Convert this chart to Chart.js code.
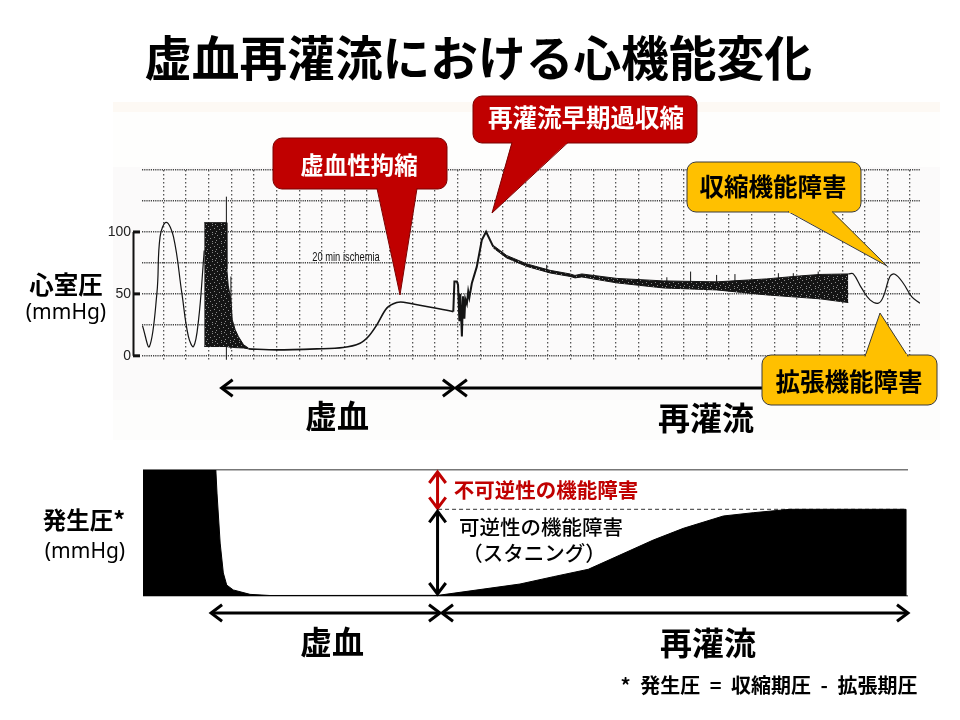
<!DOCTYPE html>
<html lang="ja">
<head>
<meta charset="utf-8">
<title>虚血再灌流における心機能変化</title>
<script src="https://cdn.jsdelivr.net/npm/chart.js@4/dist/chart.umd.min.js"></script>
<style>
html, body { margin: 0; padding: 0; background: #fff; }
body { width: 960px; height: 720px; position: relative; overflow: hidden; font-family: "Noto Sans CJK JP", sans-serif; color: #000; }
.paper { position: absolute; left: 113px; width: 827px; }
#topWrap { position: absolute; left: 0; top: 0; width: 960px; height: 440px; }
#bottomWrap { position: absolute; left: 0; top: 440px; width: 960px; height: 280px; }
.t { position: absolute; transform: translate(-50%, -50%); white-space: nowrap; line-height: 1; }
.callout { font-size: 24.5px; font-weight: 700; }
.phase { font-size: 32px; font-weight: 700; }
.axis { font-size: 24.5px; font-weight: 700; }
.unit { font-size: 21px; font-family: "Noto Sans", sans-serif; }
.note { font-size: 20.5px; font-weight: 500; }
</style>
</head>
<body>
<div class="paper" style="top:102px;height:10px;background:#fdf9f4"></div>
<div class="paper" style="top:112px;height:55px;background:#fefefd"></div>
<div class="paper" style="top:167px;height:233px;background:#fbfafa"></div>
<div class="paper" style="top:400px;height:40px;background:#fdfdfc"></div>
<div id="topWrap"><canvas id="pressureChart" width="960" height="440"></canvas></div>
<div id="bottomWrap"><canvas id="developedChart" width="960" height="280"></canvas></div>

<div class="t callout" style="left:359px;top:165px;color:#fff;font-size:23.5px">虚血性拘縮</div>
<div class="t callout" style="left:586px;top:117px;color:#fff">再灌流早期過収縮</div>
<div class="t callout" style="left:773px;top:186px">収縮機能障害</div>
<div class="t callout" style="left:849px;top:381px">拡張機能障害</div>
<div class="t" style="left:346px;top:256px;font:13px 'Liberation Sans',sans-serif;color:#111;transform:translate(-50%,-50%) scaleX(0.72)">20 min ischemia</div>
<div class="t axis" style="left:66px;top:284px">心室圧</div>
<div class="t unit" style="left:66px;top:311px">(mmHg)</div>
<div class="t phase" style="left:337px;top:414px">虚血</div>
<div class="t phase" style="left:706px;top:416px">再灌流</div>
<div class="t axis" style="left:84px;top:520px;font-size:23.5px">発生圧*</div>
<div class="t unit" style="left:85px;top:550px">(mmHg)</div>
<div class="t note" style="left:546px;top:489px;color:#c00000;font-weight:700">不可逆性の機能障害</div>
<div class="t note" style="left:541px;top:526px">可逆性の機能障害</div>
<div class="t note" style="left:534px;top:552px">（スタニング）</div>
<div class="t phase" style="left:332px;top:640px">虚血</div>
<div class="t phase" style="left:708px;top:641px">再灌流</div>
<div class="t" style="left:769px;top:685px;font-size:20px;font-weight:700;word-spacing:5px">* 発生圧 = 収縮期圧 - 拡張期圧</div>

<script>
// x values are in chart-paper divisions, y values in mmHg
const baselineX = [-0.93, -0.62, -0.29, -0.15, 0.12, 0.44, 0.81, 1.10, 1.33, 1.55, 1.77, 1.80];
const baselineY = [24.4, 7.5, 50.8, 96.2, 107.8, 96.2, 50.8, 15.6, 7.5, 29, 77.4, 85];

const beatingX = [1.80, 2.79, 2.80, 2.86, 2.98, 3.04, 3.17, 3.31, 3.54, 3.76];
const beatingTop = [107.5, 107.5, 70, 57, 45, 29, 21, 15.6, 8.9, 6.2];
const beatingBottom = [7.5, 7.5, 7.5, 7.2, 7, 6.9, 6.6, 6.5, 6.3, 5.6];

const ischemiaX = [3.76, 5.01, 6.78, 7.94, 8.69, 9.06, 9.43, 9.87, 10.31, 10.61, 12.81];
const ischemiaY = [5.6, 4.8, 5.6, 6.7, 10.2, 15.6, 25, 38.5, 43, 43.3, 35.7];

const reperfusionX = [12.81, 12.86, 12.97, 13.02, 13.08, 13.12, 13.19, 13.24, 13.3, 13.34, 13.41, 13.47, 13.52, 13.63, 13.85, 14.07, 14.26, 14.58];
const reperfusionY = [35.7, 59.9, 59.9, 57.3, 28, 50, 15.6, 48, 30, 46, 42, 52, 47, 58.6, 72, 93.5, 100.2, 88];

const bandX = [14.58, 15.17, 16.06, 17.09, 17.97, 18.19, 18.49, 20.03, 22.09, 24.45, 26.66, 28.13, 29.02, 30.27];
const bandTop = [89.1, 81, 74.2, 69, 66.1, 64.9, 66.1, 62.5, 60.5, 59.7, 62.1, 64.5, 65.7, 66.1];
const bandBottom = [87.1, 79, 72.2, 66.9, 64.1, 62.9, 63.7, 58.9, 54.8, 53.2, 49.2, 47.2, 46, 43];

const recoveryX = [30.27, 30.49, 30.86, 31.23, 31.6, 31.82, 32.11, 32.33, 32.7, 33.07, 33.44];
const recoveryY = [66.1, 66.1, 54.6, 45.2, 42.5, 47.8, 64, 65.9, 58.6, 47.8, 42.5];

const spikeX = [2.78, 2.98, 16.94, 22.25, 23.3, 24.45, 25.26, 27.18, 27.84, 28.94];
const spikeTop = [128.5, 64, 73.4, 63.4, 68, 65.3, 66, 66.7, 66.7, 68];
const spikeBottom = [-3.2, 5.6, 68, 60, 58, 58, 58, 60, 62, 62];

const pressureLabels = [0, 50, 100];

// bottom panel: percent of the developed pressure before ischemia
const developedX = [-0.9, 2.32, 2.37, 2.51, 2.65, 2.80, 3.09, 3.83, 4.71, 12.14, 15.76, 17.23, 18.78, 20.18, 21.65, 22.98, 24.75, 26.07, 27.69, 32.81, 32.81];
const developedY = [100, 100, 81.7, 42, 18.3, 8.7, 4.8, 1.3, 0.4, 0.5, 9.5, 15.3, 21.2, 32.5, 44.4, 53.7, 63.5, 66.1, 68.8, 68.8, 0];
const stunnedLevel = 68.8;
const stunnedFromX = 12.14;
const stunnedToX = 32.81;

const ischemiaStart = 2.57;
const reperfusionStart = 12.88;
const ischemiaStartLower = 2.02;
const reperfusionStartLower = 12.27;

const INK = '#141414';
const RED = '#c00000';
const YELLOW = '#ffc000';

function zip(xs, ys) {
    return xs.map((x, i) => ({ x: x, y: ys[i] }));
}

function spikePoints() {
    const pts = [];
    spikeX.forEach((x, i) => {
        pts.push({ x: x, y: spikeBottom[i] }, { x: x, y: spikeTop[i] }, { x: x, y: null });
    });
    return pts;
}

// the fast trace looks speckled in the scan
function speckle() {
    const tile = document.createElement('canvas');
    tile.width = 9;
    tile.height = 9;
    const c = tile.getContext('2d');
    c.fillStyle = INK;
    c.fillRect(0, 0, 9, 9);
    c.fillStyle = '#8a8a8a';
    [[1, 1], [5, 0], [7, 3], [3, 4], [0, 6], [5, 7], [8, 8]].forEach(d => c.fillRect(d[0], d[1], 1, 1));
    return c.createPattern(tile, 'repeat');
}

function arrowHead(c, x, y, dx, dy, size) {
    c.beginPath();
    c.moveTo(x + dx * size - dy * size * 0.75, y + dy * size - dx * size * 0.75);
    c.lineTo(x, y);
    c.lineTo(x + dx * size + dy * size * 0.75, y + dy * size + dx * size * 0.75);
    c.stroke();
}

function doubleArrow(c, x1, y1, x2, y2, color, width) {
    const len = Math.hypot(x2 - x1, y2 - y1);
    const dx = (x2 - x1) / len;
    const dy = (y2 - y1) / len;
    c.save();
    c.strokeStyle = color;
    c.lineWidth = width;
    c.lineCap = 'butt';
    c.lineJoin = 'miter';
    c.beginPath();
    c.moveTo(x1 + dx, y1 + dy);
    c.lineTo(x2 - dx, y2 - dy);
    c.stroke();
    arrowHead(c, x1, y1, dx, dy, 11);
    arrowHead(c, x2, y2, -dx, -dy, 11);
    c.restore();
}

function callout(c, box, tail, fill, edge) {
    const r = 9;
    c.save();
    c.fillStyle = fill;
    c.strokeStyle = edge;
    c.lineWidth = 1;
    c.beginPath();
    c.roundRect(box[0], box[1], box[2] - box[0], box[3] - box[1], r);
    c.fill();
    c.stroke();
    c.beginPath();
    c.moveTo(tail[0][0], tail[0][1]);
    c.lineTo(tail[1][0], tail[1][1]);
    c.lineTo(tail[2][0], tail[2][1]);
    c.fill();
    c.beginPath();
    c.moveTo(tail[0][0], tail[0][1] + 0.5);
    c.lineTo(tail[1][0], tail[1][1]);
    c.lineTo(tail[2][0], tail[2][1] + 0.5);
    c.stroke();
    c.beginPath();
    c.fillStyle = fill;
    c.fillRect(tail[0][0] + 1, tail[0][1] - 2, tail[2][0] - tail[0][0] - 2, 4);
    c.restore();
}

const pressureOverlay = {
    id: 'pressureOverlay',
    afterDatasetsDraw(chart) {
        const c = chart.ctx;
        const xs = chart.scales.x;
        const ys = chart.scales.y;

        // scale bar of the recorder
        c.save();
        c.strokeStyle = '#111';
        c.lineWidth = 2;
        c.beginPath();
        c.moveTo(133.5, ys.getPixelForValue(100));
        c.lineTo(133.5, ys.getPixelForValue(0));
        c.stroke();
        c.lineWidth = 3;
        pressureLabels.forEach(v => {
            const y = ys.getPixelForValue(v);
            c.beginPath();
            c.moveTo(133, y);
            c.lineTo(140, y);
            c.stroke();
        });
        c.restore();

        const ay = 388;
        const mid = xs.getPixelForValue(reperfusionStart);
        doubleArrow(c, xs.getPixelForValue(ischemiaStart), ay, mid - 1, ay, '#000', 3);
        doubleArrow(c, mid + 1, ay, 800, ay, '#000', 3);

        callout(c, [273, 138, 447, 189], [[377, 188], [400, 295], [417, 188]], RED, '#7a0000');
        callout(c, [473, 96, 697, 143], [[512, 142], [492, 213], [568, 142]], RED, '#7a0000');
        callout(c, [687, 162, 861, 212], [[788, 211], [887, 266], [832, 211]], YELLOW, '#3a3a3a');
        callout(c, [762, 355, 937, 405], [[865, 356], [880, 313], [908, 356]], YELLOW, '#3a3a3a');
    }
};

const developedOverlay = {
    id: 'developedOverlay',
    afterDatasetsDraw(chart) {
        const c = chart.ctx;
        const xs = chart.scales.x;
        const ys = chart.scales.y;
        const ax = xs.getPixelForValue(stunnedFromX) - 0.5;
        doubleArrow(c, ax, ys.getPixelForValue(100) + 2, ax, ys.getPixelForValue(stunnedLevel) - 1, RED, 3);
        doubleArrow(c, ax, ys.getPixelForValue(stunnedLevel) + 2, ax, ys.getPixelForValue(0) - 2, '#000', 3);

        const ay = 173;
        const mid = xs.getPixelForValue(reperfusionStartLower);
        doubleArrow(c, xs.getPixelForValue(ischemiaStartLower) + 2, ay, mid - 1, ay, '#000', 3);
        doubleArrow(c, mid + 1, ay, xs.right, ay, '#000', 3);
    }
};

const lineStyle = { showLine: true, pointRadius: 0, pointHoverRadius: 0, fill: false };

const pressureChart = new Chart(document.getElementById('pressureChart'), {
    type: 'scatter',
    data: {
        datasets: [
            { ...lineStyle, data: zip(baselineX, baselineY), borderColor: INK, borderWidth: 1.2, tension: 0.4 },
            { ...lineStyle, data: zip(beatingX, beatingTop), borderColor: INK, borderWidth: 1, fill: '+1', backgroundColor: speckle() },
            { ...lineStyle, data: zip(beatingX, beatingBottom), borderColor: INK, borderWidth: 1 },
            { ...lineStyle, data: zip(ischemiaX, ischemiaY), borderColor: INK, borderWidth: 1.6, tension: 0.3 },
            { ...lineStyle, data: zip(reperfusionX, reperfusionY), borderColor: INK, borderWidth: 2 },
            { ...lineStyle, data: zip(bandX, bandTop), borderColor: INK, borderWidth: 1, fill: '+1', backgroundColor: speckle() },
            { ...lineStyle, data: zip(bandX, bandBottom), borderColor: INK, borderWidth: 1 },
            { ...lineStyle, data: zip(recoveryX, recoveryY), borderColor: INK, borderWidth: 1.2, tension: 0.4 },
            { ...lineStyle, data: spikePoints(), borderColor: INK, borderWidth: 1, spanGaps: false }
        ]
    },
    options: {
        responsive: false,
        animation: false,
        layout: { padding: { left: 36, right: 40, top: 0, bottom: 0 } },
        plugins: {
            legend: { display: false },
            tooltip: { enabled: false },
            title: {
                display: true,
                text: '虚血再灌流における心機能変化',
                color: '#000',
                font: { size: 47.7, weight: '700', family: '"Noto Sans CJK JP", sans-serif', lineHeight: 1.2 },
                padding: { top: 29, bottom: 83.8 }
            }
        },
        scales: {
            x: {
                type: 'linear',
                min: -0.95,
                max: 33.44,
                grid: { color: '#555', lineWidth: 1.3, drawTicks: false },
                border: { display: false, dash: [1.5, 2.5] },
                ticks: { display: false, stepSize: 1, includeBounds: false },
                afterFit: s => { s.height = 78; }
            },
            y: {
                min: -5,
                max: 150,
                grid: { color: '#444', lineWidth: 1.4, drawTicks: false },
                border: { display: false, dash: [1.2, 1] },
                ticks: {
                    stepSize: 25,
                    includeBounds: false,
                    padding: 11,
                    color: '#222',
                    font: { size: 14, family: '"Liberation Sans", sans-serif' },
                    callback: v => (pressureLabels.includes(v) ? String(v) : '')
                },
                afterFit: s => { s.width = 106; }
            }
        }
    },
    plugins: [pressureOverlay]
});

const developedChart = new Chart(document.getElementById('developedChart'), {
    type: 'scatter',
    data: {
        datasets: [
            { ...lineStyle, data: zip(developedX, developedY), borderColor: '#000', borderWidth: 1, fill: 'origin', backgroundColor: '#000' },
            { ...lineStyle, data: [{ x: stunnedFromX, y: stunnedLevel }, { x: stunnedToX, y: stunnedLevel }], borderColor: '#333', borderWidth: 1, borderDash: [4, 3] }
        ]
    },
    options: {
        responsive: false,
        animation: false,
        layout: { padding: { left: 0, right: 52, top: 30, bottom: 0 } },
        plugins: { legend: { display: false }, tooltip: { enabled: false } },
        scales: {
            x: {
                type: 'linear',
                min: -0.9,
                max: 32.91,
                grid: { display: false },
                border: { display: false },
                ticks: { display: false },
                afterFit: s => { s.height = 124; }
            },
            y: {
                min: 0,
                max: 100,
                grid: { color: '#777', lineWidth: 1.5, drawTicks: false },
                border: { display: false },
                ticks: { display: false, stepSize: 100 },
                afterFit: s => { s.width = 143; }
            }
        }
    },
    plugins: [developedOverlay]
});
</script>
</body>
</html>
